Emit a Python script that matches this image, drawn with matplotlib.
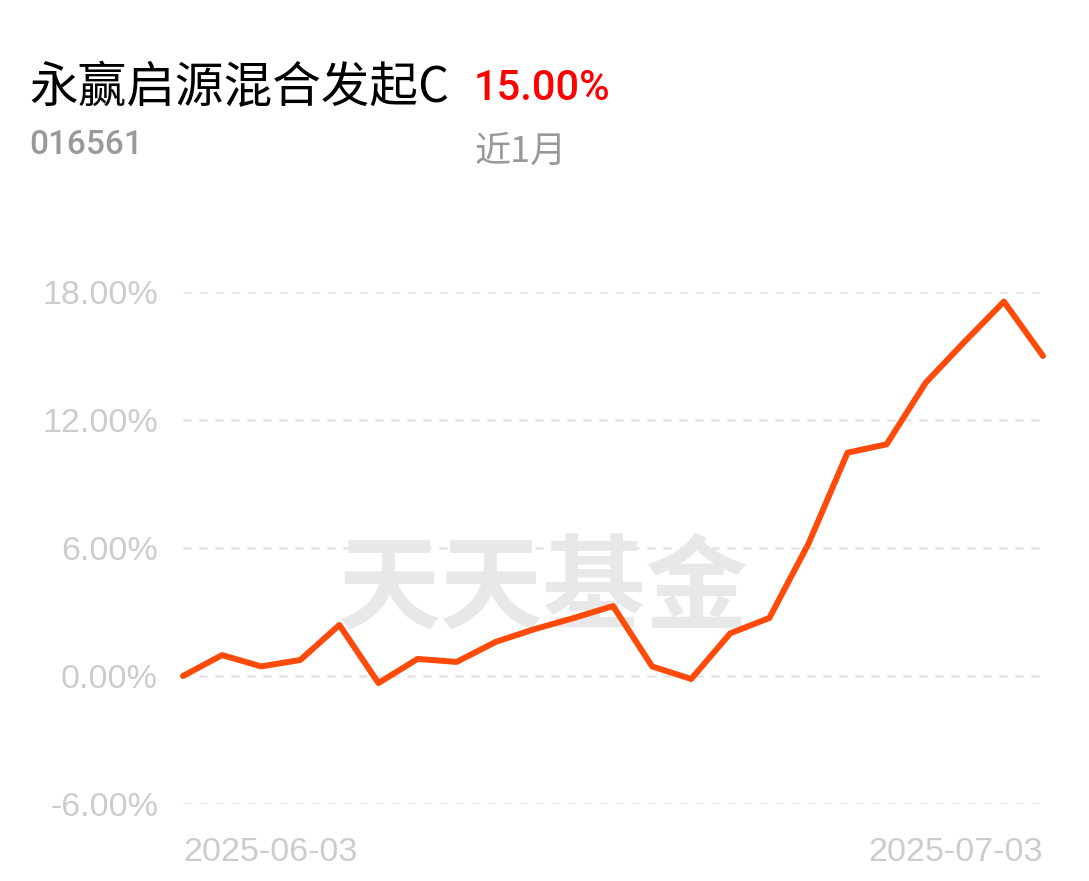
import matplotlib.pyplot as plt
import numpy as np

plt.rcParams['font.family'] = ['Noto Sans CJK SC', 'DejaVu Sans']

fund_name = "永赢启源混合发起C"
fund_code = "016561"
period_return = "15.00%"
period_label = "近1月"
watermark = "天天基金"

# daily cumulative return (%), 2025-06-03 .. 2025-07-03
returns = [0.00, 0.98, 0.45, 0.75, 2.39, -0.33, 0.80, 0.66, 1.60, 2.20,
           2.72, 3.28, 0.45, -0.14, 2.00, 2.72, 6.20, 10.47, 10.86, 13.75,
           15.68, 17.55, 15.00]
date_labels = ["2025-06-03", "2025-07-03"]
y_ticks = [-6, 0, 6, 12, 18]
y_labels = ["-6.00%", "0.00%", "6.00%", "12.00%", "18.00%"]

W, H = 1089, 881
fig = plt.figure(figsize=(W / 100, H / 100), dpi=100)
fig.patch.set_facecolor('white')

# header texts
fig.text(29 / W, 1 - 88 / H, fund_name, fontsize=35, color='black', va='center')
fig.text(474 / W, 1 - 88 / H, period_return, fontsize=30, color='#ff0000',
         va='center', family=['Roboto'], fontweight='medium')
fig.text(29 / W, 1 - 145 / H, fund_code, fontsize=24, color='#999999',
         va='center', family=['Roboto'], fontweight='medium')
fig.text(475 / W, 1 - 152 / H, period_label, fontsize=26, color='#999999', va='center')

ax = fig.add_axes([183 / W, 1 - 804 / H, (1043 - 183) / W, (804 - 292) / H])
ax.set_xlim(0, len(returns) - 1)
ax.set_ylim(-6, 18)

for s in ax.spines.values():
    s.set_visible(False)

for v in y_ticks:
    ax.axhline(v, color='#e3e3e3', lw=1.8, dashes=(3.2, 3.2), zorder=1)

# watermark
ax.text(0.419, 0.418, watermark, transform=ax.transAxes, fontsize=74,
        fontweight='bold', color='#e8e8e8', ha='center', va='center', zorder=2)

x = np.arange(len(returns))
ax.plot(x, returns, color='#ff4a0a', lw=4.3, solid_capstyle='round',
        solid_joinstyle='round', clip_on=False, zorder=3)

ax.set_yticks(y_ticks)
ax.set_yticklabels(y_labels, family=['Liberation Sans'], fontsize=24.5, color='#cccccc')
ax.set_xticks([0, len(returns) - 1])
xl = ax.set_xticklabels(date_labels, family=['Liberation Sans'], fontsize=24.5, color='#cccccc')
xl[0].set_ha('left')
xl[1].set_ha('right')
ax.tick_params(axis='y', length=0, pad=18)
ax.tick_params(axis='x', length=0, pad=24)

fig.savefig('out.png', dpi=100, facecolor='white')
